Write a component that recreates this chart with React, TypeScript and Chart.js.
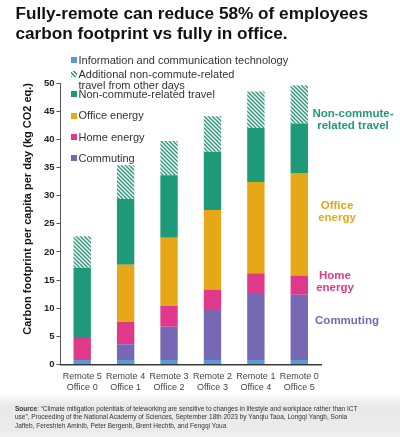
import React, { useEffect, useRef } from "react";
import { Chart, registerables } from "chart.js";

Chart.register(...registerables);

// ---------- data ----------
const categories: string[][] = [
  ["Remote 5", "Office 0"],
  ["Remote 4", "Office 1"],
  ["Remote 3", "Office 2"],
  ["Remote 2", "Office 3"],
  ["Remote 1", "Office 4"],
  ["Remote 0", "Office 5"],
];
const ictValues = [0.8, 0.8, 0.8, 0.8, 0.8, 0.8];
const commutingValues = [0, 2.8, 5.9, 8.9, 11.9, 11.6];
const homeEnergyValues = [3.9, 4.0, 3.7, 3.6, 3.5, 3.4];
const officeEnergyValues = [0, 10.1, 12.1, 14.15, 16.2, 18.2];
const nonCommuteValues = [12.5, 11.7, 11.1, 10.35, 9.6, 8.8];
const additionalValues = [5.6, 6.0, 6.1, 6.3, 6.5, 6.8];
const yTickValues = [0, 5, 10, 15, 20, 25, 30, 35, 40, 45, 50];

const seriesNames = {
  ict: "Information and communication technology",
  additional: "Additional non-commute-related travel from other days",
  nonCommute: "Non-commute-related travel",
  office: "Office energy",
  home: "Home energy",
  commuting: "Commuting",
};

const yAxisTitle = "Carbon footprint per capita per day (kg CO2 eq.)";

// ---------- styles ----------
const FONT = "'Liberation Sans', Arial, Helvetica, sans-serif";
const C = {
  ict: "#5b9bd5",
  commuting: "#7668b3",
  home: "#e0388a",
  office: "#e6a817",
  nonCommute: "#1f9a78",
  hatch: "#2a9d7c",
};

const legendItems = [
  { key: "ict", lines: ["Information and communication technology"], y: 60 },
  { key: "additional", lines: ["Additional non-commute-related", "travel from other days"], y: 74 },
  { key: "nonCommute", lines: ["Non-commute-related travel"], y: 94 },
  { key: "office", lines: ["Office energy"], y: 115.7 },
  { key: "home", lines: ["Home energy"], y: 137.3 },
  { key: "commuting", lines: ["Commuting"], y: 158.3 },
];

const sideLabels = [
  { key: "nonCommute", lines: ["Non-commute-", "related travel"], cx: 353, y: 113 },
  { key: "office", lines: ["Office", "energy"], cx: 337, y: 205 },
  { key: "home", lines: ["Home", "energy"], cx: 335, y: 275 },
  { key: "commuting", lines: ["Commuting"], cx: 347, y: 320 },
];

function makeHatch(ctx: CanvasRenderingContext2D): CanvasPattern | string {
  const s = 4;
  const tile = document.createElement("canvas");
  tile.width = s;
  tile.height = s;
  const c = tile.getContext("2d");
  if (!c) return C.hatch;
  c.fillStyle = "#ffffff";
  c.fillRect(0, 0, s, s);
  c.strokeStyle = C.hatch;
  c.lineWidth = 1.5;
  c.beginPath();
  c.moveTo(0, 0);
  c.lineTo(s, s);
  c.moveTo(-1, s - 1);
  c.lineTo(1, s + 1);
  c.moveTo(s - 1, -1);
  c.lineTo(s + 1, 1);
  c.stroke();
  return ctx.createPattern(tile, "repeat") || C.hatch;
}

const hatchCss = `repeating-linear-gradient(45deg, ${C.hatch} 0 1.2px, #ffffff 1.2px 2.6px)`;

function colorFor(key: string): string {
  return (C as any)[key] || C.hatch;
}

export default function App() {
  const canvasRef = useRef<HTMLCanvasElement | null>(null);

  useEffect(() => {
    const canvas = canvasRef.current;
    if (!canvas) return;
    const ctx = canvas.getContext("2d");
    if (!ctx) return;
    const hatch = makeHatch(ctx);

    const common = { stack: "s", categoryPercentage: 0.8, barPercentage: 0.5, borderWidth: 0 };
    const chart = new Chart(ctx, {
      type: "bar",
      data: {
        labels: categories,
        datasets: [
          { label: seriesNames.ict, data: ictValues, backgroundColor: C.ict, ...common },
          { label: seriesNames.commuting, data: commutingValues, backgroundColor: C.commuting, ...common },
          { label: seriesNames.home, data: homeEnergyValues, backgroundColor: C.home, ...common },
          { label: seriesNames.office, data: officeEnergyValues, backgroundColor: C.office, ...common },
          { label: seriesNames.nonCommute, data: nonCommuteValues, backgroundColor: C.nonCommute, ...common },
          { label: seriesNames.additional, data: additionalValues, backgroundColor: hatch as any, ...common },
        ],
      },
      options: {
        responsive: false,
        animation: false,
        layout: { padding: { left: 0, top: 83, right: 79, bottom: 7.5 } },
        plugins: { legend: { display: false }, tooltip: { enabled: false }, title: { display: false } },
        scales: {
          x: {
            stacked: true,
            grid: { display: false, drawTicks: false, tickLength: 0 },
            border: { display: true, color: "#3a3a3a", width: 1.5 },
            ticks: {
              color: "#444",
              padding: 7,
              maxRotation: 0,
              autoSkip: false,
              font: { family: FONT, size: 9, lineHeight: 11 / 9 },
            },
          },
          y: {
            stacked: true,
            min: 0,
            max: 50,
            afterBuildTicks: (scale: any) => {
              scale.ticks = yTickValues.map((v) => ({ value: v }));
            },
            afterFit: (scale: any) => {
              scale.width = 60.5;
            },
            grid: { drawOnChartArea: false, drawTicks: true, tickLength: 4, color: "#555" },
            border: { display: true, color: "#555", width: 1 },
            ticks: {
              color: "#222",
              padding: 2,
              font: { family: FONT, size: 9.5, weight: "bold" },
            },
            title: {
              display: true,
              text: yAxisTitle,
              align: "end",
              color: "#111",
              padding: { top: 21.4, bottom: 0 },
              font: { family: FONT, size: 11, weight: "bold", lineHeight: 1.2 },
            },
          },
        },
      },
    } as any);
    return () => chart.destroy();
  }, []);

  return (
    <div
      style={{
        position: "fixed",
        left: 0,
        top: 0,
        width: 400,
        height: 437,
        overflow: "hidden",
        background: "#ffffff",
        fontFamily: FONT,
      }}
    >
      <div
        style={{
          position: "absolute",
          left: 0,
          top: 393,
          width: 400,
          height: 44,
          background: "linear-gradient(to bottom, #ffffff 0px, #e9e9e9 12px, #ebebeb 38px, #f2f2f2 44px)",
        }}
      />
      <canvas ref={canvasRef} width={400} height={408} style={{ position: "absolute", left: 0, top: 0 }} />
      <div
        style={{
          position: "absolute",
          left: 15.5,
          top: 4.3,
          width: 385,
          fontSize: 17.2,
          lineHeight: "19.5px",
          fontWeight: "bold",
          color: "#111",
          whiteSpace: "nowrap",
        }}
      >
        Fully-remote can reduce 58% of employees
        <br />
        carbon footprint vs fully in office.
      </div>
      {legendItems.map((it) => (
        <div key={it.key}>
          <div
            style={{
              position: "absolute",
              left: 70.5,
              top: it.y - 3,
              width: 6,
              height: 6,
              background: it.key === "additional" ? hatchCss : colorFor(it.key),
            }}
          />
          <div
            style={{
              position: "absolute",
              left: 78.5,
              top: it.y - 5.5,
              fontSize: 11,
              lineHeight: "11px",
              color: "#333",
              whiteSpace: "nowrap",
            }}
          >
            {it.lines.map((l, i) => (
              <div key={i}>{l}</div>
            ))}
          </div>
        </div>
      ))}
      {sideLabels.map((it) => (
        <div
          key={it.key}
          style={{
            position: "absolute",
            left: it.cx - 60,
            width: 120,
            top: it.y - 6.25,
            textAlign: "center",
            fontSize: 11.5,
            lineHeight: "12.5px",
            fontWeight: "bold",
            color: colorFor(it.key),
            whiteSpace: "nowrap",
          }}
        >
          {it.lines.map((l, i) => (
            <div key={i}>{l}</div>
          ))}
        </div>
      ))}
      <div
        style={{
          position: "absolute",
          left: 15,
          top: 405.2,
          fontSize: 6.5,
          lineHeight: "8.2px",
          color: "#333",
          whiteSpace: "nowrap",
        }}
      >
        <b>Source</b>: “Climate mitigation potentials of teleworking are sensitive to changes in lifestyle and workplace rather than ICT
        <br />
        use”, Proceeding of the National Academy of Sciences, September 18th 2023 by Yanqiu Taoa, Longqi Yangb, Sonia
        <br />
        Jaffeb, Fereshteh Aminib, Peter Bergenb, Brent Hechtb, and Fengqi Youa
      </div>
    </div>
  );
}
